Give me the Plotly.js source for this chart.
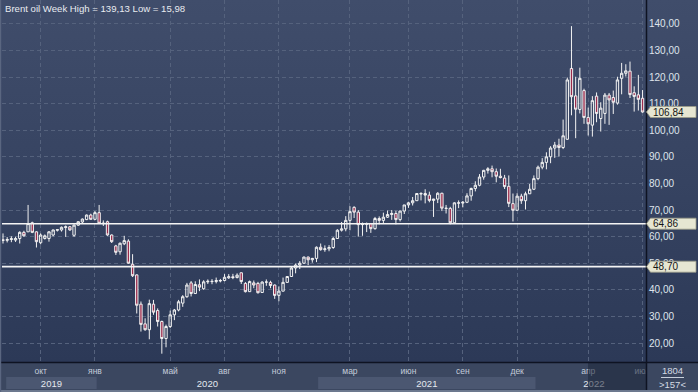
<!DOCTYPE html>
<html>
<head>
<meta charset="utf-8">
<script src="https://cdn.plot.ly/plotly-3.0.1.min.js"></script>
<style>
  html, body { margin:0; padding:0; width:698px; height:392px; overflow:hidden;
    background: linear-gradient(180deg, #404d6b 0px, #2c3957 362px, #2c3957 392px); }
  #chart { width:698px; height:392px; }
</style>
</head>
<body>
<div id="chart"></div>
<script>
// ---- data (weekly bars, Brent oil) ----
const dates = [
 '2019-08-05','2019-08-12','2019-08-19','2019-08-26','2019-09-02','2019-09-09','2019-09-16','2019-09-23','2019-09-30',
 '2019-10-07','2019-10-14','2019-10-21','2019-10-28','2019-11-04','2019-11-11','2019-11-18','2019-11-25',
 '2019-12-02','2019-12-09','2019-12-16','2019-12-23','2019-12-30',
 '2020-01-02','2020-01-06','2020-01-13','2020-01-20','2020-01-27','2020-02-03','2020-02-10','2020-02-17','2020-02-24',
 '2020-03-02','2020-03-09','2020-03-16','2020-03-23','2020-03-30','2020-04-06','2020-04-13','2020-04-20','2020-04-27',
 '2020-05-04','2020-05-11','2020-05-18','2020-05-25','2020-06-01','2020-06-08','2020-06-15','2020-06-22','2020-06-29',
 '2020-07-06','2020-07-13','2020-07-20','2020-07-27','2020-08-03','2020-08-10','2020-08-17','2020-08-24','2020-08-31',
 '2020-09-07','2020-09-14','2020-09-21','2020-09-28','2020-10-05','2020-10-12','2020-10-19','2020-10-26',
 '2020-11-02','2020-11-09','2020-11-16','2020-11-23','2020-11-30','2020-12-07','2020-12-14','2020-12-21','2020-12-28',
 '2021-01-04','2021-01-11','2021-01-18','2021-01-25','2021-02-01','2021-02-08','2021-02-15','2021-02-22',
 '2021-03-01','2021-03-08','2021-03-15','2021-03-22','2021-03-29','2021-04-05','2021-04-12','2021-04-19','2021-04-26',
 '2021-05-03','2021-05-10','2021-05-17','2021-05-24','2021-05-31','2021-06-07','2021-06-14','2021-06-21','2021-06-28',
 '2021-07-05','2021-07-12','2021-07-19','2021-07-26','2021-08-02','2021-08-09','2021-08-16','2021-08-23','2021-08-30',
 '2021-09-06','2021-09-13','2021-09-20','2021-09-27','2021-10-04','2021-10-11','2021-10-18','2021-10-25',
 '2021-11-01','2021-11-08','2021-11-15','2021-11-22','2021-11-29','2021-12-06','2021-12-13','2021-12-20','2021-12-27',
 '2022-01-03','2022-01-10','2022-01-17','2022-01-24','2022-01-31','2022-02-07','2022-02-14','2022-02-21','2022-02-28',
 '2022-03-07','2022-03-14','2022-03-21','2022-03-28','2022-04-04','2022-04-11','2022-04-18','2022-04-25',
 '2022-05-02','2022-05-09','2022-05-16','2022-05-23','2022-05-30','2022-06-06','2022-06-13','2022-06-20','2022-06-27',
 '2022-07-04'
];
const opens = [
 58.8,58.6,58.9,58.7,59.3,61.6,61.8,65.2,61.8,
 57.7,59.3,59.3,60.6,62.4,62.5,63.4,63.7,
 60.5,64.3,65.5,66.4,68.1,
 66.5,69.0,65.1,65.6,60.6,56.5,54.3,57.3,58.3,
 49.6,45.6,34.6,27.2,25.0,34.6,32.2,28.1,21.7,
 26.2,30.6,32.4,35.0,37.4,42.6,38.6,41.9,40.4,
 43.0,43.2,43.1,43.3,43.5,44.5,44.9,44.6,46.4,
 42.4,39.3,42.6,42.4,39.0,42.9,42.8,41.8,
 37.9,39.5,42.8,45.0,48.2,49.3,50.0,52.3,51.3,
 51.8,56.0,55.1,55.4,55.9,59.3,62.4,62.9,
 66.1,71.0,69.2,64.5,64.6,64.9,63.0,66.8,66.1,
 67.3,68.3,68.7,66.4,69.6,71.9,72.7,73.5,76.0,
 76.2,75.6,73.6,74.1,76.3,70.7,70.6,65.2,72.7,
 72.6,72.9,75.3,78.1,79.3,82.4,84.9,85.5,
 84.4,82.7,82.0,78.9,72.4,69.9,75.2,73.5,76.1,
 77.8,81.8,86.1,87.9,90.0,93.3,94.4,93.5,96.6,
 123.2,112.9,107.8,114.9,104.8,101.9,112.8,104.4,
 106.3,113.2,112.3,110.2,119.5,121.4,122.2,114.1,113.3,
 112.0
];
const highs = [
 61.2,59.8,60.1,60.0,62.0,62.2,71.9,65.6,62.0,
 61.2,60.8,62.1,62.6,62.8,63.8,64.2,64.0,
 64.6,65.8,66.8,68.3,68.6,
 69.6,71.9,66.1,66.0,60.8,56.9,57.8,60.3,59.0,
 53.4,45.8,35.6,29.3,36.3,36.2,33.0,28.4,26.9,
 32.2,32.8,36.2,38.0,42.6,43.3,43.2,43.9,43.6,
 43.9,44.0,44.6,44.1,45.9,45.9,46.0,46.2,46.5,
 42.9,43.5,43.5,43.0,43.2,43.9,43.4,42.0,
 41.3,44.6,45.0,48.6,49.9,50.8,52.5,52.5,52.0,
 56.3,57.4,56.7,56.8,59.8,62.8,65.5,67.7,
 71.4,71.4,70.0,65.3,65.3,65.0,67.4,67.6,69.0,
 69.8,70.0,69.7,69.8,71.9,73.1,74.9,76.3,76.7,
 77.8,76.9,74.2,76.7,76.5,71.9,71.2,72.9,73.6,
 73.4,76.3,78.4,80.8,83.5,85.1,86.1,86.7,
 85.6,85.5,83.2,83.0,76.2,76.3,76.1,76.9,79.8,
 83.0,86.7,89.5,91.7,94.0,95.6,96.8,104.0,119.8,
 139.13,120.1,123.5,115.6,108.5,112.8,114.2,110.5,
 114.0,114.0,114.9,120.1,125.3,124.8,125.8,116.5,120.8,
 115.1
];
const lows = [
 57.4,57.8,57.9,58.0,57.4,60.0,61.8,61.3,55.9,
 57.1,58.9,58.1,60.1,61.9,61.9,59.9,62.2,
 59.9,64.0,65.1,66.2,66.3,
 66.2,64.9,64.0,60.3,57.6,53.1,53.2,56.8,49.8,
 44.8,31.1,24.3,24.6,21.4,30.6,26.2,15.98,18.4,
 25.6,28.6,31.9,33.6,37.0,37.5,38.4,39.5,40.0,
 42.2,42.1,42.4,42.8,43.2,44.1,44.0,44.3,42.2,
 39.0,39.2,40.6,38.6,38.8,41.5,40.6,36.6,
 35.7,39.4,42.6,44.9,46.2,47.8,49.8,49.3,50.2,
 50.4,54.7,54.3,54.5,55.4,59.1,61.9,62.0,
 62.4,67.0,60.0,60.3,61.7,61.4,62.6,64.6,64.8,
 67.0,66.3,64.6,65.7,68.5,70.8,71.7,73.4,73.6,
 72.5,72.9,67.4,72.6,69.6,68.7,64.6,65.0,70.7,
 71.0,72.6,73.5,77.0,78.9,81.4,83.7,82.3,
 80.4,81.9,77.9,71.1,65.7,69.8,72.3,70.2,76.0,
 77.5,81.2,85.3,85.3,87.6,89.6,90.1,92.9,96.4,
 105.6,97.0,106.3,102.4,98.0,97.6,103.0,99.5,
 102.4,102.0,106.1,109.6,113.5,120.2,112.1,107.0,107.4,
 106.6
];
const closes = [
 58.6,58.9,59.2,59.3,61.6,60.3,64.9,61.6,58.1,
 60.6,60.3,61.8,62.5,62.6,63.5,63.7,62.5,
 64.3,65.6,66.6,68.1,66.5,
 69.0,65.0,64.9,60.6,58.1,54.1,57.5,58.5,50.0,
 45.3,34.2,27.0,25.0,34.8,31.6,28.1,21.7,26.2,
 30.6,32.4,35.5,37.4,41.8,38.6,42.0,41.0,43.0,
 43.2,43.1,43.5,43.5,44.7,44.9,44.6,45.5,43.1,
 39.3,43.1,41.8,38.9,42.9,42.9,41.6,37.9,
 39.5,42.8,45.0,48.2,49.3,50.0,52.3,51.3,51.8,
 56.0,55.1,55.4,55.9,59.3,62.4,62.9,66.1,
 69.4,69.2,64.5,64.6,64.9,63.0,66.8,66.1,67.3,
 68.3,68.7,66.4,69.6,71.9,72.7,73.5,76.2,76.2,
 75.6,73.6,74.1,76.3,70.7,70.6,65.2,72.7,72.6,
 72.9,75.3,78.1,79.3,82.4,84.9,85.5,84.4,
 82.7,82.2,78.8,72.5,69.9,75.2,73.5,76.1,77.8,
 81.8,86.1,87.9,90.0,93.3,94.4,93.5,97.9,118.9,
 112.6,107.9,119.5,104.8,102.4,111.1,106.3,108.3,
 113.2,111.4,110.5,118.9,121.4,122.3,113.4,112.7,111.6,
 106.84
];
const monthTickDates = ['2019-10-07','2020-01-02','2020-05-04','2020-08-03','2020-11-02','2021-03-01',
                        '2021-06-07','2021-09-06','2021-12-06','2022-04-04','2022-07-04'];
const monthLabels = ['окт','янв','май','авг','ноя','мар','июн','сен','дек','апр','июл'];
const yearLabels = ['2019','2020','2021','2022'];
const yearStartDates = ['2020-01-02','2021-01-04','2022-01-03'];
const priceTicks = [20,30,40,50,60,70,80,90,100,110,120,130,140];
const levelLines = [64.86, 48.70];
const lastPrice = 106.84;
const titleText = 'Brent oil Week High = 139,13 Low = 15,98';
const footerTop = '1804';
const footerBottom = '>157<';

// ---- geometry ----
const W = 698, H = 392, ML = 2, MR = 52, MT = 0, MB = 30;
const plotW = W - ML - MR, plotH = H - MT - MB;
const step = 4.18, firstPx = 3;
const xr0 = -(firstPx - ML) / step, xr1 = xr0 + plotW / step;
const yr = [12.86, 148.95];
const pxX = px => (px - ML) / plotW;
const pxY = py => (H - MB - py) / plotH;
const fmt = v => v.toFixed(2).replace('.', ',');
const unitPerPx = (yr[1] - yr[0]) / plotH;

const gridCol = '#55627d';
const FONT = 'Liberation Sans, Arial, sans-serif';

// year boxes
const b = yearStartDates.map(d => dates.indexOf(d) + 0.4);
const yearBounds = [xr0 + 1, b[0], b[1], b[2], xr1 + 1.5];
const yearPos = yearLabels.map((y, k) => (yearBounds[k] + yearBounds[k + 1]) / 2);

const shapes = [];
// bottom panel background
shapes.push({type:'rect', xref:'paper', yref:'paper', x0:pxX(0), x1:pxX(W), y0:pxY(392), y1:pxY(362.5),
  fillcolor:'#3b4760', line:{width:0}, layer:'below'});
// lighter year boxes (2019, 2021)
[0, 2].forEach(k => shapes.push({type:'rect', xref:'x2', yref:'paper', x0:yearBounds[k], x1:yearBounds[k+1],
  y0:pxY(389), y1:pxY(377), fillcolor:'#4b5771', line:{width:0}, layer:'below'}));
// level lines
levelLines.forEach(v => shapes.push({type:'line', xref:'paper', yref:'y', x0:0, x1:1, y0:v, y1:v,
  line:{color:'#f4f4f4', width:1.6}, layer:'above'}));
// dark overlay at bottom right
shapes.push({type:'rect', xref:'paper', yref:'paper', x0:pxX(588), x1:pxX(646), y0:pxY(390), y1:pxY(363),
  fillcolor:'rgba(30,38,58,0.55)', line:{width:0}, layer:'above'});
// right-bottom info box
shapes.push({type:'rect', xref:'paper', yref:'paper', x0:pxX(646.5), x1:pxX(W), y0:pxY(392), y1:pxY(362.5),
  fillcolor:'#3b4760', line:{width:0}, layer:'above'});
shapes.push({type:'line', xref:'paper', yref:'paper', x0:pxX(661), x1:pxX(684), y0:pxY(377.5), y1:pxY(377.5),
  line:{color:'#c8d0dc', width:1}, layer:'above'});
// frame lines
shapes.push({type:'line', xref:'paper', yref:'paper', x0:pxX(0), x1:pxX(W), y0:pxY(362.5), y1:pxY(362.5),
  line:{color:'#0e1322', width:1.5}, layer:'above'});
shapes.push({type:'line', xref:'paper', yref:'paper', x0:pxX(646.5), x1:pxX(646.5), y0:pxY(0), y1:pxY(392),
  line:{color:'#0e1322', width:1.5}, layer:'above'});
shapes.push({type:'rect', xref:'paper', yref:'paper', x0:pxX(0), x1:pxX(W), y0:pxY(392), y1:pxY(390),
  fillcolor:'#6c788e', line:{width:0}, layer:'above'});
shapes.push({type:'rect', xref:'paper', yref:'paper', x0:pxX(0), x1:pxX(1.2), y0:pxY(392), y1:pxY(0),
  fillcolor:'#5a6680', line:{width:0}, layer:'above'});
// price callouts
const half = 5.5 * unitPerPx;
const callouts = [lastPrice].concat(levelLines);
callouts.forEach(v => {
  const xt = pxX(646.5), xl = pxX(650.5), xr = pxX(696);
  shapes.push({type:'path', xref:'paper', yref:'y',
    path:`M ${xt},${v} L ${xl},${v+half} L ${xr},${v+half} L ${xr},${v-half} L ${xl},${v-half} Z`,
    fillcolor:'#e6e6d2', line:{color:'#9c9c88', width:0.8}, layer:'above'});
});

const annotations = [];
annotations.push({xref:'paper', yref:'paper', x:pxX(3), y:pxY(8), xanchor:'left', yanchor:'middle',
  text:titleText, showarrow:false, font:{family:FONT, size:9.6, color:'#e8ebf0'}});
callouts.forEach(v => annotations.push({xref:'paper', yref:'y', x:pxX(650.5), y:v, xanchor:'left', yanchor:'middle',
  text:fmt(v), showarrow:false, font:{family:FONT, size:10, color:'#151515'}}));
annotations.push({xref:'paper', yref:'paper', x:pxX(672.5), y:pxY(370), xanchor:'center', yanchor:'middle',
  text:footerTop, showarrow:false, font:{family:FONT, size:9.5, color:'#d4dae4'}});
annotations.push({xref:'paper', yref:'paper', x:pxX(672.5), y:pxY(384.5), xanchor:'center', yanchor:'middle',
  text:footerBottom, showarrow:false, font:{family:FONT, size:9.5, color:'#d4dae4'}});

const trace = {
  type:'candlestick', x:dates, open:opens, high:highs, low:lows, close:closes,
  xaxis:'x', yaxis:'y', whiskerwidth:0, hoverinfo:'skip',
  increasing:{line:{color:'#f2f2f2', width:1}, fillcolor:'rgba(0,0,0,0)'},
  decreasing:{line:{color:'#f2f2f2', width:1}, fillcolor:'#9a2b4c'}
};

const layout = {
  width:W, height:H, margin:{l:ML, r:MR, t:MT, b:MB, pad:0},
  paper_bgcolor:'rgba(0,0,0,0)', plot_bgcolor:'rgba(0,0,0,0)',
  showlegend:false, hovermode:false, dragmode:false, boxgap:0.2,
  xaxis:{type:'category', range:[xr0, xr1], rangeslider:{visible:false}, fixedrange:true,
    tickmode:'array', tickvals:monthTickDates, ticktext:monthLabels, ticks:'',
    showgrid:true, gridcolor:gridCol, gridwidth:1, griddash:'4px,3px',
    zeroline:false, showline:false, ticklabelstandoff:2,
    tickfont:{family:FONT, size:8.5, color:'#c3ccda'}},
  xaxis2:{type:'linear', overlaying:'x', anchor:'y', side:'bottom', range:[xr0, xr1], fixedrange:true,
    tickmode:'array', tickvals:yearPos, ticktext:yearLabels, ticks:'', showgrid:false, zeroline:false,
    showline:false, ticklabelstandoff:14, tickfont:{family:FONT, size:9.5, color:'#e4e8ee'}},
  yaxis:{side:'right', range:yr, fixedrange:true, tickmode:'array', tickvals:priceTicks,
    ticktext:priceTicks.map(fmt), ticks:'', showgrid:true, gridcolor:gridCol, gridwidth:1, griddash:'4px,3px',
    zeroline:false, showline:false, ticklabelstandoff:2,
    tickfont:{family:FONT, size:10, color:'#dfe4ec'}},
  shapes:shapes, annotations:annotations
};

Plotly.newPlot('chart', [trace], layout, {staticPlot:true, displayModeBar:false});
</script>
</body>
</html>
